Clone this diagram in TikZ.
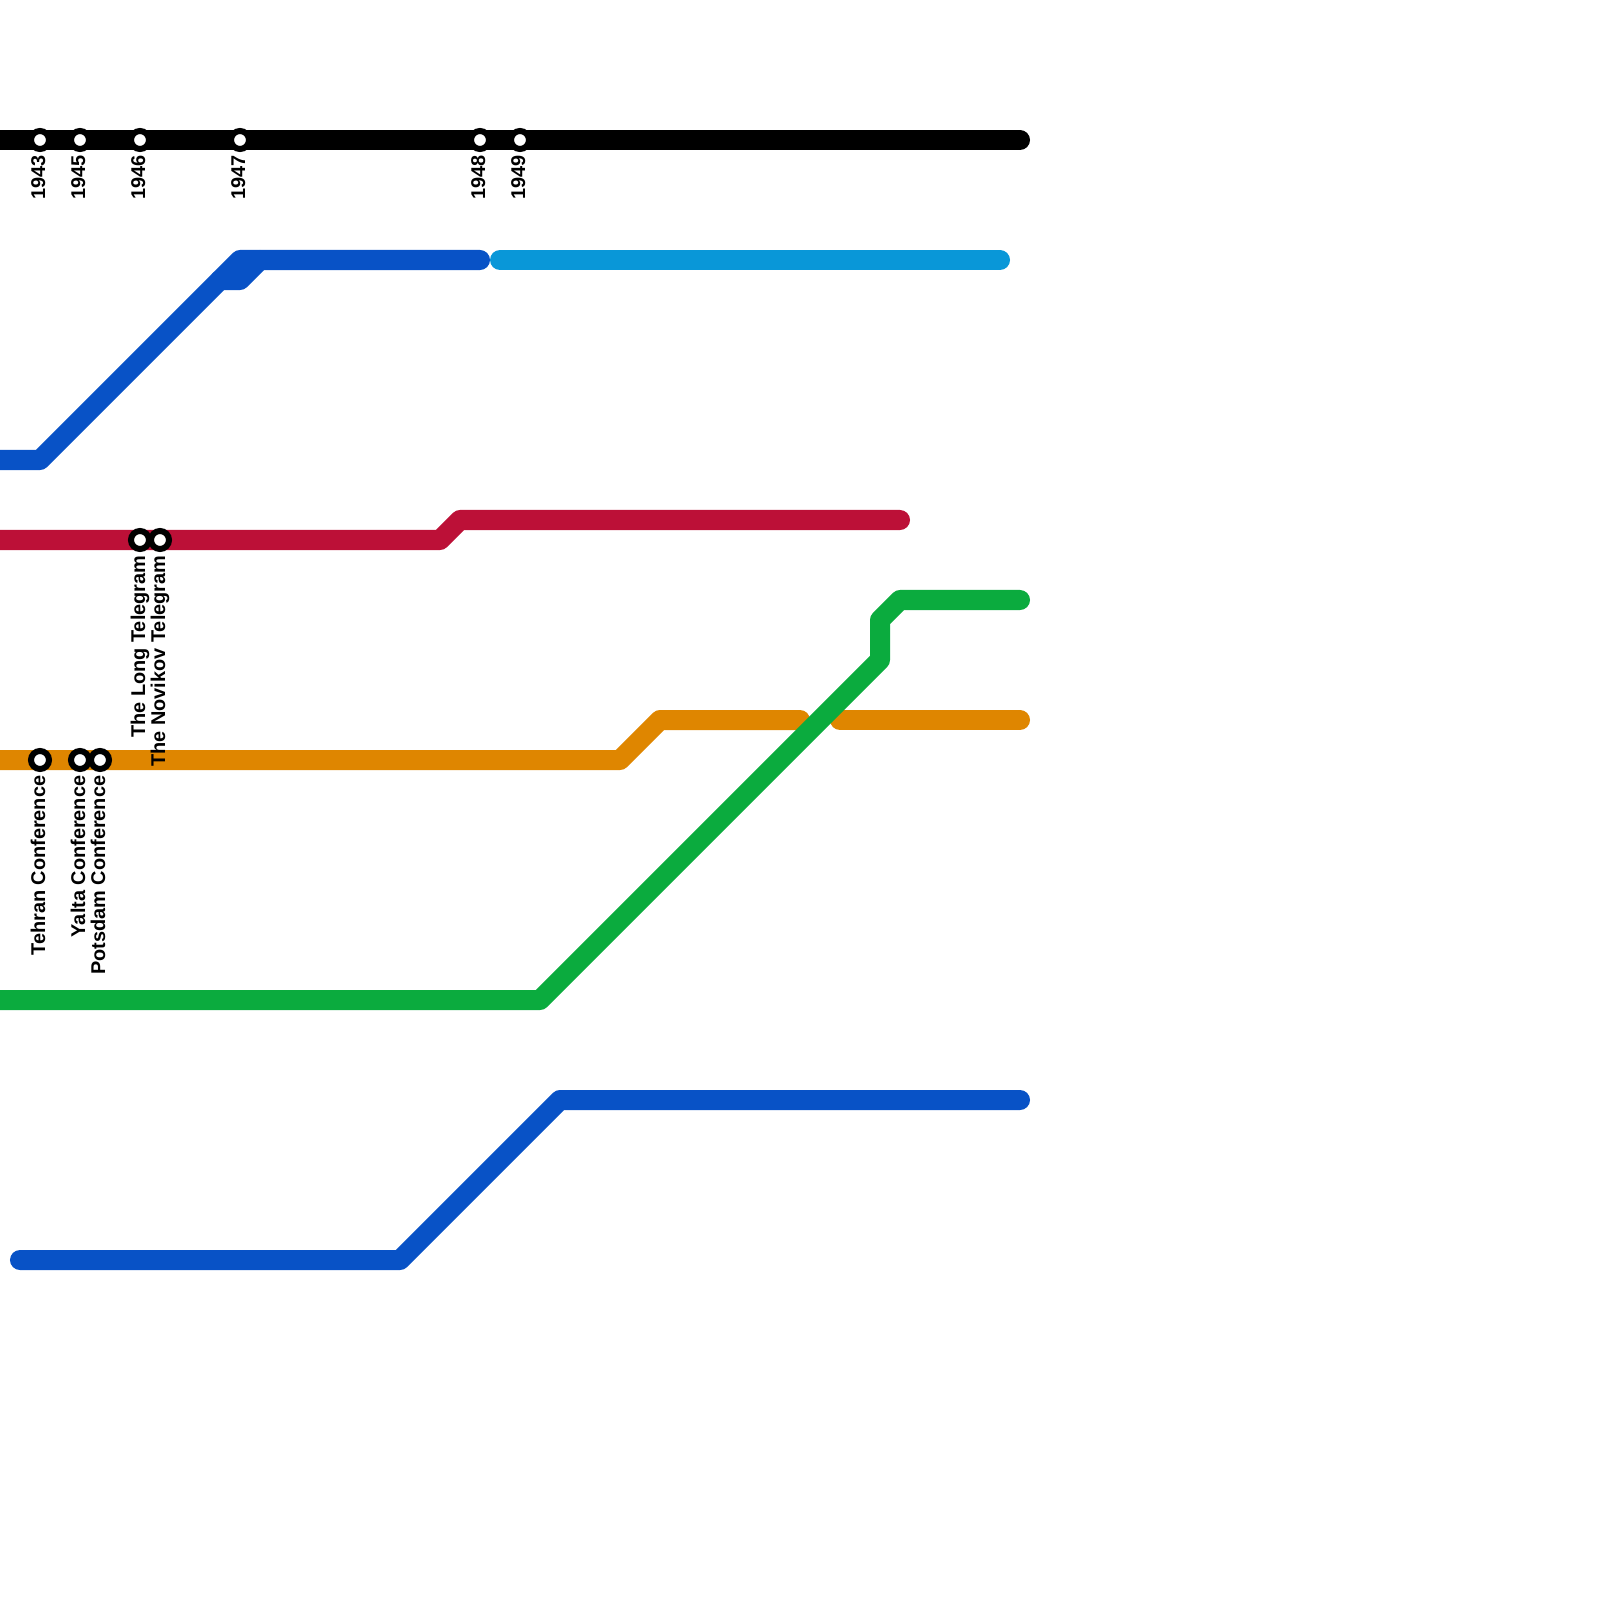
\documentclass[tikz,border=0pt]{standalone}
\usepackage{fontspec}
\setmainfont{Liberation Sans}
\definecolor{lineblue}{RGB}{8,82,198}
\definecolor{lightblue}{RGB}{9,151,216}
\definecolor{linered}{RGB}{188,16,55}
\definecolor{lineorange}{RGB}{223,134,0}
\definecolor{linegreen}{RGB}{11,171,62}
\tikzset{
  metroline/.style={line width=0.2cm, line cap=round, line join=round},
  station/.style={circle, draw=black, fill=white, line width=0.06cm, minimum size=0.18cm, inner sep=0pt},
  stationlabel/.style={rotate=90, anchor=base east, inner sep=0pt, font=\fontsize{5.66}{6.5}\selectfont\bfseries}
}
\begin{document}
\begin{tikzpicture}[x=0.01cm, y=-0.01cm]
  \useasboundingbox (0,0) rectangle (1600,1600);

  % Timeline
  \draw[metroline, black] (-20,140) -- (1020,140);

  % Blue line, upper
  \draw[metroline, lineblue] (-20,460) -- (40,460) -- (240,260) -- (480,260);
  \draw[metroline, lineblue] (220,280) -- (240,280) -- (260,260);
  \draw[metroline, lightblue] (500,260) -- (1000,260);

  % Red line
  \draw[metroline, linered] (-20,540) -- (440,540) -- (460,520) -- (900,520);

  % Orange line
  \draw[metroline, lineorange] (-20,760) -- (620,760) -- (660,720) -- (800,720);
  \draw[metroline, lineorange] (840,720) -- (1020,720);

  % Green line
  \draw[metroline, linegreen] (-20,1000) -- (540,1000) -- (880,660) -- (880,620) -- (900,600) -- (1020,600);

  % Blue line, lower
  \draw[metroline, lineblue] (20,1260) -- (400,1260) -- (560,1100) -- (1020,1100);

  % Years
  \foreach \yr/\xpos in {1943/40, 1945/80, 1946/140, 1947/240, 1948/480, 1949/520}{
    \node[station] (y\yr) at (\xpos,140) {};
    \node[stationlabel] (l\yr) at ([shift={(5,15)}]y\yr.center) {\yr};
  }

  % Events
  \foreach \name/\xpos/\ypos/\txt in {tehran/40/760/Tehran Conference, yalta/80/760/Yalta Conference,
      potsdam/100/760/Potsdam Conference, long/140/540/The Long Telegram, novikov/160/540/The Novikov Telegram}{
    \node[station] (\name) at (\xpos,\ypos) {};
    \node[stationlabel] (l\name) at ([shift={(5,15)}]\name.center) {\txt};
  }
\end{tikzpicture}
\end{document}
